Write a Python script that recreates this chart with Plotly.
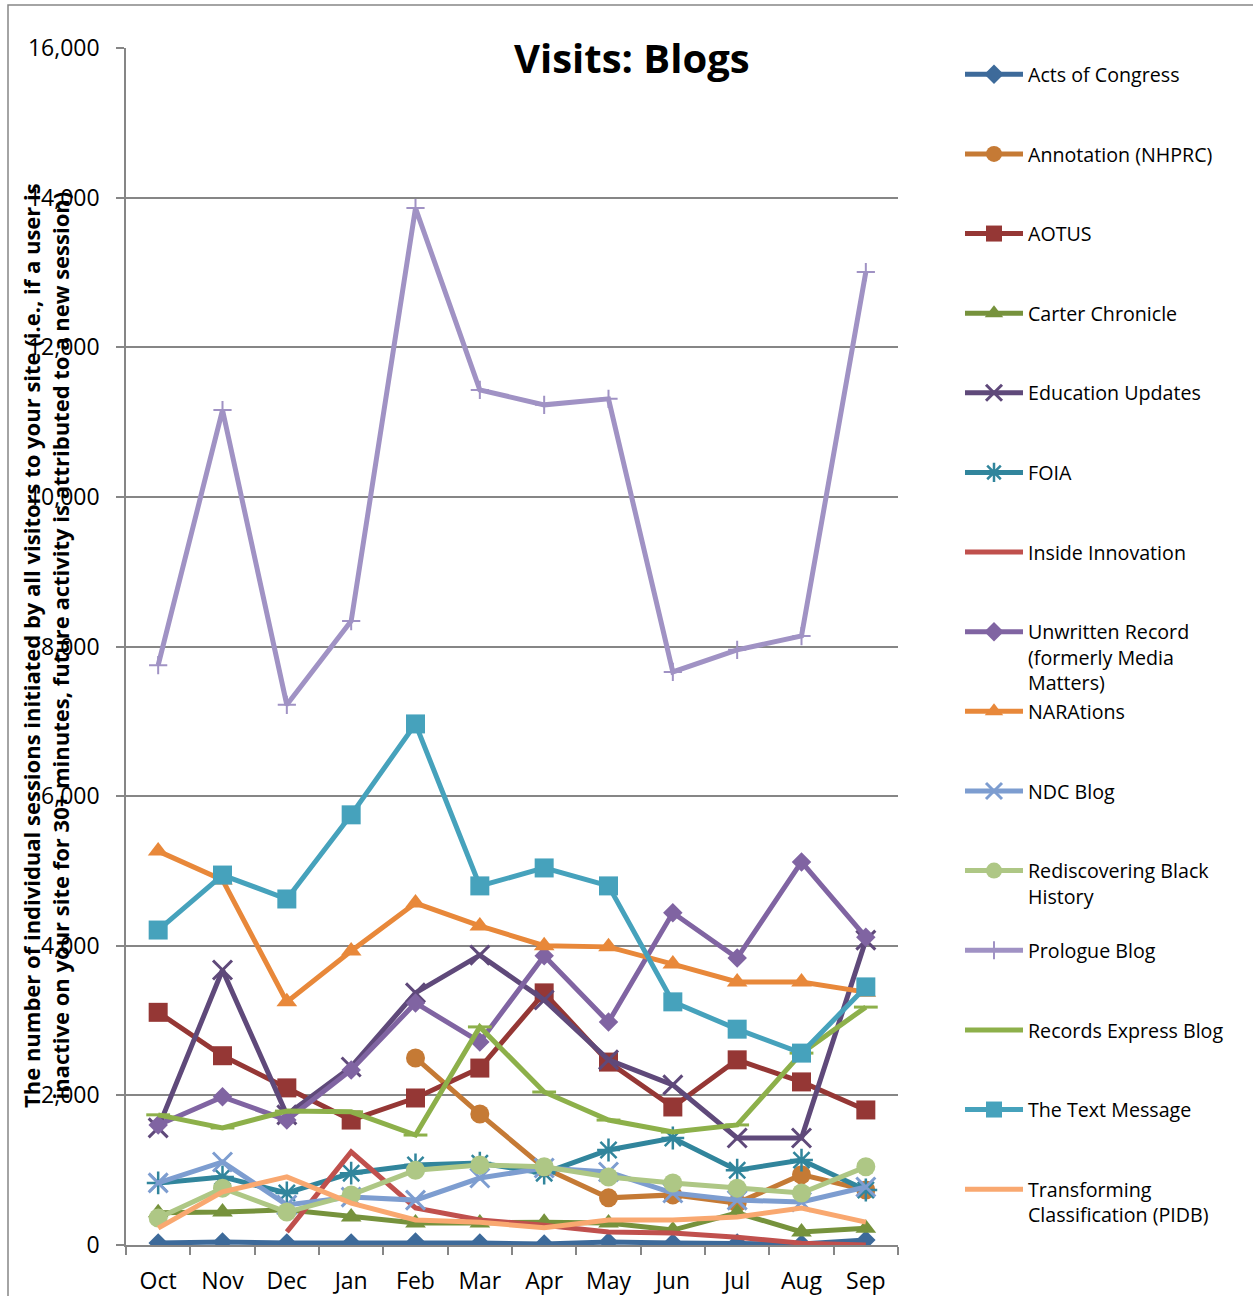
import plotly.graph_objects as go

months = ["Oct", "Nov", "Dec", "Jan", "Feb", "Mar", "Apr", "May", "Jun", "Jul", "Aug", "Sep"]

acts_of_congress = [27, 40, 27, 27, 40, 27, 13, 40, 27, 27, 13, 67]
annotation_nhprc = [None, None, None, None, 2500, 1750, 1030, 630, 670, 560, 940, 735]
aotus = [3110, 2530, 2100, 1670, 1965, 2365, 3370, 2445, 1845, 2475, 2180, 1805]
carter_chronicle = [430, 440, 470, 375, 295, 295, 305, 295, 200, 430, 175, 225]
education_updates = [1565, 3675, 1740, 2380, 3370, 3875, 3275, 2475, 2140, 1430, 1430, 4075]
foia = [830, 910, 695, 960, 1070, 1095, 960, 1270, 1430, 1000, 1135, 735]
inside_innovation = [None, None, 175, 1245, 495, 335, 265, 175, 160, 105, 25, 0]
unwritten_record = [1605, 1980, 1670, 2340, 3235, 2715, 3865, 2980, 4440, 3835, 5120, 4115]
narations = [5265, 4880, 3250, 3930, 4570, 4265, 4000, 3985, 3755, 3515, 3515, 3380]
ndc_blog = [830, 1110, 535, 640, 600, 895, 1030, 975, 695, 600, 575, 775]
rediscovering = [360, 760, 440, 670, 1000, 1070, 1045, 910, 830, 760, 695, 1045]
prologue_blog = [7750, 11160, 7220, 8340, 13860, 11430, 11230, 11310, 7660, 7955, 8140, 13005]
records_express = [1740, 1565, 1790, 1780, 1470, 2915, 2045, 1670, 1510, 1605, 2565, 3180]
text_message = [4210, 4945, 4625, 5750, 6965, 4800, 5040, 4800, 3250, 2885, 2565, 3450]
transforming = [225, 710, 910, 560, 335, 305, 230, 335, 335, 375, 495, 305]

y_ticks = [0, 2000, 4000, 6000, 8000, 10000, 12000, 14000, 16000]

series = [
    ("Acts of Congress", acts_of_congress, "#3D6A9A", "diamond", 15, 0),
    ("Annotation (NHPRC)", annotation_nhprc, "#C57A35", "circle", 19, 0),
    ("AOTUS", aotus, "#953735", "square", 19, 0),
    ("Carter Chronicle", carter_chronicle, "#76923C", "triangle-up", 18, 0),
    ("Education Updates", education_updates, "#5F497A", "x-thin-open", 19, 3),
    ("FOIA", foia, "#31859C", "asterisk-open", 19, 2.5),
    ("Inside Innovation", inside_innovation, "#C0504D", None, 0, 0),
    ("Unwritten Record<br>(formerly Media<br>Matters)", unwritten_record, "#8064A2", "diamond", 15, 0),
    ("NARAtions", narations, "#E8883A", "triangle-up", 18, 0),
    ("NDC Blog", ndc_blog, "#7D9DD0", "x-thin-open", 19, 3),
    ("Rediscovering Black<br>History", rediscovering, "#AEC785", "circle", 19, 0),
    ("Prologue Blog", prologue_blog, "#A092C4", "cross-thin-open", 13, 2),
    ("Records Express Blog", records_express, "#8DB04A", "line-ew-open", 17, 3),
    ("The Text Message", text_message, "#46A2BC", "square", 19, 0),
    ("Transforming<br>Classification (PIDB)", transforming, "#F9A870", None, 0, 0),
]

FONT = "Open Sans"

fig = go.Figure()
for name, vals, color, sym, size, lw in series:
    nlines = name.count("<br>") + 1
    label = name + "<br>\u00a0" * (3 - nlines)
    kw = dict(x=months, y=vals, name=label, legendgroup=name,
              line=dict(color=color, width=5), connectgaps=False)
    if sym is None:
        kw["mode"] = "lines"
    else:
        kw["mode"] = "lines+markers"
        kw["marker"] = dict(symbol=sym, size=size, color=color,
                            line=dict(color=color, width=lw))
    fig.add_trace(go.Scatter(**kw))

L, R, T, B = 126, 898, 48, 1245
W, H = 1253, 1296
pw, ph = R - L, B - T

def px(x):
    return (x - L) / pw

def py(y):
    return (B - y) / ph

fig.update_layout(
    width=W, height=H,
    margin=dict(l=L, r=W - R, t=T, b=H - B, pad=0, autoexpand=False),
    paper_bgcolor="white", plot_bgcolor="white",
    font=dict(family=FONT, color="black"),
    showlegend=True,
    legend=dict(x=px(960), y=py(55), xanchor="left", yanchor="top",
                font=dict(size=19.65, family=FONT, color="black"),
                valign="top", tracegroupgap=0, itemwidth=58,
                maxheight=1290,
                bgcolor="rgba(0,0,0,0)"),
    xaxis=dict(type="category", range=[-0.5, 11.5], showgrid=False,
               showline=True, linecolor="#868686", linewidth=1.5,
               ticks="outside", tickson="boundaries", ticklen=8,
               tickcolor="#868686", tickwidth=1.5,
               tickfont=dict(size=23, family=FONT, color="black"),
               ticklabelstandoff=15),
    yaxis=dict(range=[0, 16000], tickvals=y_ticks, tickformat=",",
               showgrid=True, gridcolor="#868686", gridwidth=1.5,
               showline=True, linecolor="#868686", linewidth=1.5,
               ticks="outside", ticklen=8, tickcolor="#868686", tickwidth=1.5,
               tickfont=dict(size=23, family=FONT, color="black"),
               ticklabelstandoff=12, zeroline=False),
    shapes=[dict(type="rect", xref="paper", yref="paper",
                 x0=px(8), x1=px(1300), y0=py(1340), y1=py(5),
                 line=dict(color="#868686", width=1.5), layer="below")],
    annotations=[
        dict(text="<b>Visits: Blogs</b>", xref="paper", yref="paper",
             x=px(632), y=py(57), xanchor="center", yanchor="middle",
             showarrow=False, font=dict(size=40, family=FONT, color="black")),
        dict(text="<b>The number of individual sessions initiated by all visitors to your site (i.e., if a user is<br>"
                  "inactive on your site for 30+ minutes, future activity is attributed to a new session)</b>",
             xref="paper", yref="paper", x=px(45), y=py(646),
             xanchor="center", yanchor="middle", textangle=-90,
             showarrow=False, font=dict(size=22, family=FONT, color="black")),
    ],
)

fig.write_html("out.html", config={"displayModeBar": False},
               post_script="document.body.style.margin='0';")
